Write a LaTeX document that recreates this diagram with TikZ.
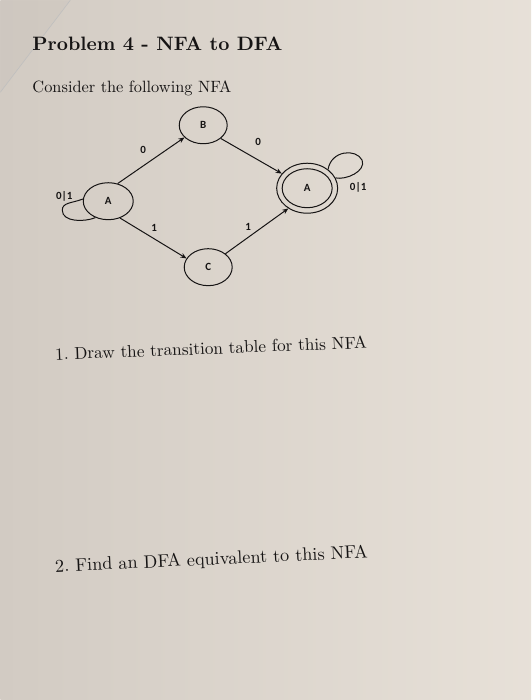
\documentclass[tikz,border=0pt]{standalone}
\usepackage{fontspec}
\newfontfamily\labfont{Carlito}
\usetikzlibrary{arrows.meta,shapes.geometric}
\definecolor{paper}{RGB}{230,223,214}
\definecolor{paperdark}{RGB}{210,203,195}
\definecolor{ink}{RGB}{22,20,20}
\tikzset{
  state/.style={ellipse,draw=ink,line width=1pt,minimum width=48pt,minimum height=37pt,inner sep=0pt,font=\labfont\bfseries\fontsize{11}{12}\selectfont,text=ink},
  trans/.style={draw=ink,line width=1pt,-{Stealth[length=6pt,width=5pt]}},
  loopline/.style={draw=ink,line width=1pt},
  elabel/.style={font=\labfont\bfseries\fontsize{11}{12}\selectfont,text=ink,inner sep=1pt},
  doctext/.style={anchor=base west,inner sep=0pt,text=ink},
}
\begin{document}
\begin{tikzpicture}[x=1pt,y=-1pt]
\shade[left color=paperdark,right color=paper!95!white] (0,0) rectangle (531,700);
\fill[paperdark!90!gray,opacity=0.4] (0,0) -- (70,0) -- (0,92) -- cycle;
\draw[gray!50,line width=0.6pt] (70,0) -- (0,92);
\useasboundingbox (0,0) rectangle (531,700);

% texts
\node[doctext] (title) at (32,50) {\resizebox{250pt}{!}{\bfseries Problem 4 - NFA to DFA}};
\node[doctext] (intro) at (32,92) {\resizebox{199pt}{!}{Consider the following NFA}};
\node[doctext,rotate=2.2] (q1) at (55,360) {\resizebox{312pt}{!}{1.\ Draw the transition table for this NFA}};
\node[doctext,rotate=2.6] (q2) at (55,572) {\resizebox{313pt}{!}{2.\ Find an DFA equivalent to this NFA}};

% states
\node[state,minimum width=50pt,minimum height=37pt] (A) at (108,201) {A};
\node[state] (B) at (203,125) {B};
\node[state] (C) at (208,267) {C};
\node[state,minimum width=61pt,minimum height=50pt] (F) at (307,188) {};
\node[state,minimum width=50pt,minimum height=39pt] (Fi) at (307,188) {A};

% transitions
\draw[trans] (A.62) -- (B.213);
\draw[trans] (B.-37) -- (F.150);
\draw[trans] (A.-55) -- (C.158);
\draw[trans] (C.38) -- (F.227);
\node[elabel] (l0a) at (143,150) {0};
\node[elabel] (l0b) at (258,142) {0};
\node[elabel] (l1a) at (154,228) {1};
\node[elabel] (l1b) at (248,227) {1};

% self loops
\draw[loopline] (A.175) .. controls (72,203) and (62,202) .. (62,210) .. controls (62,222) and (84,222) .. (A.232);
\node[elabel] (lA) at (64,196) {0|1};
\draw[loopline] (F.42) .. controls (331,150) and (356,148) .. (362,160) .. controls (366,171) and (346,180) .. (F.20);
\node[elabel] (lF) at (358,187) {0|1};
\end{tikzpicture}
\end{document}
